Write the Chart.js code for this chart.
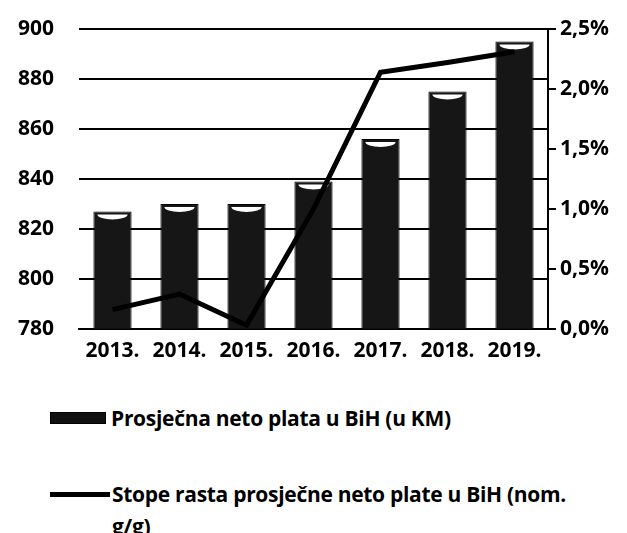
<!DOCTYPE html>
<html>
<head>
<meta charset="utf-8">
<script src="https://cdn.jsdelivr.net/npm/chart.js@4/dist/chart.umd.min.js"></script>
<style>
  body { margin: 0; background: #fff; width: 627px; height: 533px; overflow: hidden; font-family: "Open Sans", sans-serif; font-weight: 700; }
  #wrap { position: absolute; left: 0; top: 0; width: 627px; height: 366px; }
  .leg { position: absolute; left: 50px; font-size: 21px; color: #000; line-height: 32px; letter-spacing: -0.3px; }
  .box { display: inline-block; width: 54px; height: 10px; background: #111; border: 1px solid #000; vertical-align: middle; margin-right: 5px; position: relative; top: -2px; }
  .ln { display: inline-block; width: 60px; height: 5px; background: #000; vertical-align: middle; margin-right: 2px; position: relative; top: -2px; }
</style>
</head>
<body>
<div id="wrap"><canvas id="c" width="627" height="366"></canvas></div>
<div class="leg" style="top:402px"><span class="box"></span>Prosječna neto plata u BiH (u KM)</div>
<div class="leg" style="top:478px; width:570px"><span class="ln"></span>Stope rasta prosječne neto plate u BiH (nom.<br><span style="padding-left:62px">g/g)</span></div>
<script>
const years = ['2013.', '2014.', '2015.', '2016.', '2017.', '2018.', '2019.'];
const avgWage = [827, 830, 830, 839, 856, 875, 895];
const growthRate = [0.16, 0.29, 0.03, 1.0, 2.14, 2.22, 2.31];

const tickFont = { family: 'Open Sans', size: 21, weight: '700' };

// white cap on top of each bar (cylinder look)
const capPlugin = {
  id: 'caps',
  afterDatasetDraw(chart, args) {
    if (args.index !== 1) return;
    const ctx = chart.ctx;
    args.meta.data.forEach(bar => {
      const w = bar.width;
      ctx.save();
      ctx.fillStyle = '#fff';
      ctx.beginPath();
      ctx.ellipse(bar.x, bar.y + 3, w / 2 - 4, 5, 0, 0, Math.PI);
      ctx.fill();
      ctx.restore();
    });
  }
};

const ctx = document.getElementById('c').getContext('2d');

new Chart(ctx, {
  data: {
    labels: years,
    datasets: [
      {
        type: 'line',
        label: 'Stope rasta prosječne neto plate u BiH (nom. g/g)',
        data: growthRate,
        yAxisID: 'y1',
        borderColor: '#000',
        borderWidth: 5,
        pointRadius: 0,
        tension: 0,
        order: 1
      },
      {
        type: 'bar',
        label: 'Prosječna neto plata u BiH (u KM)',
        data: avgWage,
        yAxisID: 'y',
        backgroundColor: '#161616',
        borderColor: '#000',
        borderWidth: 1,
        categoryPercentage: 1,
        barPercentage: 0.57,
        order: 2
      }
    ]
  },
  options: {
    responsive: false,
    animation: false,
    layout: { padding: 0 },
    plugins: { legend: { display: false }, tooltip: { enabled: false } },
    scales: {
      x: {
        grid: { display: false },
        border: { color: '#000', width: 2 },
        ticks: { color: '#000', font: tickFont, padding: 2 }
      },
      y: {
        position: 'left',
        min: 780, max: 900,
        ticks: { stepSize: 20, color: '#000', font: tickFont, padding: 25 },
        grid: { color: '#000', lineWidth: 2, drawTicks: false },
        border: { display: false },
        afterFit(s) { s.width = 79; s.paddingTop = 29; s.paddingBottom = 13; }
      },
      y1: {
        position: 'right',
        min: 0, max: 2.5,
        ticks: {
          stepSize: 0.5, color: '#000', font: tickFont, padding: 4,
          callback: v => v.toFixed(1).replace('.', ',') + '%'
        },
        grid: { drawOnChartArea: false, color: '#000', lineWidth: 2, tickLength: 8 },
        border: { color: '#000', width: 2 },
        afterFit(s) { s.width = 79; }
      }
    }
  },
  plugins: [capPlugin]
});
</script>
</body>
</html>
